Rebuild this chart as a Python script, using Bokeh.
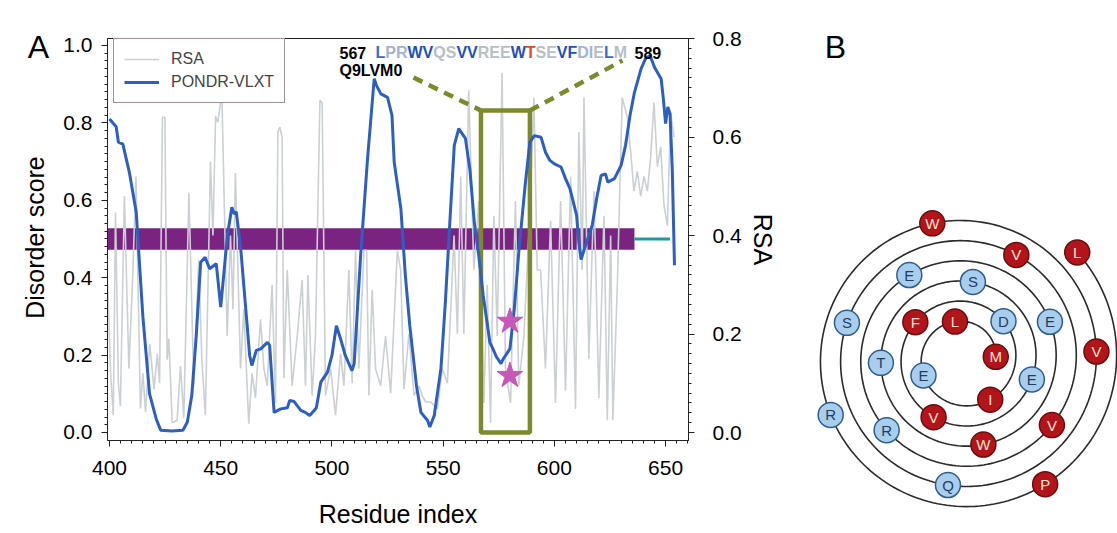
import math
import numpy as np
from bokeh.plotting import figure
from bokeh.models import (Range1d, LinearAxis, Label, Legend, LegendItem,
                          FixedTicker, PrintfTickFormatter)
from bokeh.layouts import row
from bokeh.embed import file_html
from bokeh.resources import INLINE
from bokeh.core.properties import value

FONT = "Liberation Sans"

# ---------------- data: panel A ----------------
pondr_res = [400, 403, 404, 406, 409, 412, 413, 415, 418, 421, 423, 428, 433, 435, 437,
             439, 441, 443, 445, 448, 450, 453, 455, 456, 457, 459, 461, 463, 464, 466,
             468, 471, 472, 474, 477, 480, 481, 483, 486, 488, 490, 492, 493, 495, 498,
             500, 502, 504, 506, 509, 510, 513, 516, 519, 520, 522, 525, 527, 528, 531,
             533, 535, 538, 540, 543, 544, 546, 549, 551, 553, 555, 557, 560, 562, 564,
             566, 568, 571, 573, 574, 576, 577, 580, 582, 584, 587, 589, 591, 594, 596,
             598, 600, 603, 605, 607, 610, 611, 612, 614, 617, 619, 621, 623, 624, 627,
             630, 632, 634, 636, 639, 641, 643, 645, 648, 649, 650, 651, 652, 653, 654]
pondr_score = [0.81, 0.79, 0.75, 0.745, 0.67, 0.57, 0.48, 0.30, 0.10, 0.035, 0.006, 0.004, 0.006, 0.027, 0.096,
               0.25, 0.44, 0.453, 0.423, 0.436, 0.324, 0.509, 0.582, 0.565, 0.57, 0.475, 0.337, 0.199, 0.173, 0.212,
               0.216, 0.233, 0.225, 0.052, 0.061, 0.064, 0.083, 0.080, 0.057, 0.052, 0.044, 0.057, 0.064, 0.13, 0.156,
               0.199, 0.276, 0.24, 0.199, 0.16, 0.178, 0.466, 0.707, 0.914, 0.897, 0.875, 0.866, 0.819, 0.698, 0.578,
               0.406, 0.276, 0.121, 0.052, 0.031, 0.014, 0.044, 0.165, 0.337, 0.543, 0.742, 0.785, 0.76, 0.681, 0.543,
               0.457, 0.354, 0.233, 0.208, 0.195, 0.178, 0.19, 0.216, 0.32, 0.466, 0.647, 0.75, 0.767, 0.763, 0.724,
               0.703, 0.694, 0.686, 0.656, 0.63, 0.561, 0.492, 0.447, 0.483, 0.535, 0.604, 0.664, 0.668, 0.647, 0.656,
               0.69, 0.742, 0.819, 0.879, 0.94, 0.966, 0.974, 0.944, 0.914, 0.862, 0.798, 0.841, 0.823, 0.681, 0.432]

rsa_res = [399.2, 400.5, 401.7, 402.7, 404.0, 404.9, 406.7, 408.7, 410.3, 411.9, 413.9, 415.0, 416.2, 418.1,
           420.0, 421.5, 422.5, 423.8, 424.9, 425.9, 426.7, 428.2, 430.4, 431.9, 433.4, 435.7, 437.9, 440.1,
           441.5, 443.1, 445.4, 446.5, 447.7, 448.7, 449.9, 450.6, 452.9, 454.4, 455.5, 456.6, 458.9, 460.4,
           462.6, 464.1, 465.6, 467.9, 469.4, 470.9, 473.1, 474.6, 475.7, 476.6, 477.6, 478.4, 479.9, 482.1,
           484.4, 486.6, 488.1, 489.2, 491.1, 492.6, 494.6, 495.6, 497.1, 499.4, 501.6, 503.9, 505.4, 507.6,
           509.1, 510.6, 512.1, 514.4, 515.6, 516.6, 518.1, 519.6, 521.9, 524.1, 526.4, 529.4, 530.9, 532.4,
           534.6, 536.9, 539.1, 540.6, 542.1, 544.4, 547.4, 549.6, 551.9, 554.9, 556.4, 557.9, 559.3, 561.5,
           563.8, 566.0, 568.3, 569.8, 571.3, 572.8, 574.3, 576.5, 578.0, 580.3, 582.5, 584.0, 586.3, 588.5,
           590.8, 592.3, 593.8, 596.0, 598.3, 600.5, 602.8, 605.0, 607.3, 609.5, 611.0, 612.5, 613.3, 615.5,
           617.8, 620.0, 622.3, 623.8, 625.3, 626.3, 628.3, 630.5, 632.8, 634.3, 635.8, 637.3, 638.8, 640.3,
           641.8, 643.3, 644.8, 646.3, 647.8, 649.3, 650.8, 652.3, 653.8]
rsa_val = [0.30, 0.12, 0.035, 0.446, 0.10, 0.054, 0.48, 0.13, 0.30, 0.52, 0.049, 0.12, 0.042, 0.18,
           0.088, 0.16, 0.10, 0.64, 0.64, 0.148, 0.19, 0.02, 0.025, 0.135, 0.03, 0.487, 0.095, 0.35,
           0.15, 0.035, 0.55, 0.40, 0.642, 0.63, 0.67, 0.67, 0.196, 0.40, 0.25, 0.527, 0.13, 0.25,
           0.018, 0.12, 0.07, 0.23, 0.13, 0.095, 0.30, 0.06, 0.61, 0.62, 0.60, 0.11, 0.33, 0.095,
           0.196, 0.31, 0.095, 0.32, 0.075, 0.196, 0.675, 0.669, 0.075, 0.13, 0.035, 0.16, 0.095, 0.33,
           0.10, 0.37, 0.13, 0.37, 0.37, 0.075, 0.29, 0.13, 0.095, 0.196, 0.08, 0.37, 0.33, 0.088,
           0.20, 0.075, 0.095, 0.075, 0.062, 0.062, 0.048, 0.13, 0.10, 0.40, 0.20, 0.52, 0.20, 0.695,
           0.33, 0.47, 0.06, 0.30, 0.02, 0.44, 0.196, 0.73, 0.13, 0.06, 0.47, 0.095, 0.196, 0.40,
           0.68, 0.33, 0.33, 0.13, 0.43, 0.06, 0.47, 0.085, 0.52, 0.048, 0.61, 0.33, 0.68, 0.15,
           0.49, 0.07, 0.44, 0.025, 0.40, 0.025, 0.30, 0.68, 0.64, 0.57, 0.49, 0.53, 0.48, 0.52,
           0.49, 0.56, 0.67, 0.54, 0.58, 0.46, 0.42, 0.65, 0.60]

disorder_region = [399, 636]      # purple bar (predicted disordered region)
linker_region = [636, 652]        # teal line
bar_level = 0.5
bar_halfwidth = 0.028

motif_start, motif_end = 567, 589
motif_top = 0.832
motif_seq = "LPRWVQSVVREEWTSEVFDIELM"
motif_id = "Q9LVM0"
# letter class: b=blue, d=dark blue, p=pale blue, g=gray, r=red
motif_cls = ["b", "p", "p", "d", "d", "g", "g", "d", "d", "g", "g", "g", "d", "r",
             "g", "g", "d", "d", "p", "p", "g", "b", "g"]
star_res = [580, 580]
star_score = [0.287, 0.147]

x_ticks = [400, 450, 500, 550, 600, 650]
y_ticks = [0.0, 0.2, 0.4, 0.6, 0.8, 1.0]
rsa_ticks = [0.0, 0.2, 0.4, 0.6, 0.8]

# ---------------- data: panel B (helical wheel) ----------------
wheel_seq = "LPRWVQSVVREEWTSEVFDIELM"
hydrophobic = set("LPWVFIMA")

# ---------------- geometry ----------------
H = 533
W_L = 57                      # left strip: panel letter + y title
W_A = 780 - W_L               # main plot A
W_B = 1117 - 780              # panel B
FL, FR, FT, FB = 107, 688, 38, 440   # frame of A in page pixels
X0, X1 = 399.1, 660.3
Y0, Y1 = -0.0207, 1.018
R0, R1 = -0.0162, 0.8

def px2x(px):
    return X0 + (px - FL) * (X1 - X0) / (FR - FL)

def py2y(py):
    return Y1 - (py - FT) * (Y1 - Y0) / (FB - FT)

def blank(width, x0, x1):
    f = figure(width=width, height=H, x_range=Range1d(x0, x1), y_range=Range1d(0, H),
               output_backend="svg", toolbar_location=None, min_border=0)
    f.frame_align = False
    f.axis.visible = False
    f.xgrid.visible = False
    f.ygrid.visible = False
    f.outline_line_color = None
    f.background_fill_color = "white"
    f.border_fill_color = "white"
    return f

# ---------------- left strip ----------------
pl = blank(W_L, 0, W_L)
pl.text(x=[38], y=[H - 46], text=["A"], text_font=value(FONT), text_font_size="32px",
        text_color="black", text_align="center", text_baseline="middle")
pl.text(x=[34], y=[H - 237], text=["Disorder score"], angle=math.pi / 2,
        text_font=value(FONT), text_font_size="25px", text_color="black",
        text_align="center", text_baseline="middle")

# ---------------- figure A ----------------
p = figure(width=W_A, height=H, x_range=Range1d(X0, X1), y_range=Range1d(Y0, Y1),
           output_backend="svg", toolbar_location=None,
           min_border_left=FL - W_L, min_border_right=780 - FR,
           min_border_top=FT, min_border_bottom=H - FB)
p.frame_align = False
p.extra_y_ranges = {"rsa": Range1d(R0, R1)}
p.xgrid.visible = False
p.ygrid.visible = False
p.outline_line_color = "#222222"
p.outline_line_width = 1
p.background_fill_color = "white"
p.border_fill_color = "white"

AX_COLOR = "#222222"

def style_axis(ax, size_lbl="21px", size_title="25px"):
    ax.axis_line_color = AX_COLOR
    ax.major_tick_line_color = AX_COLOR
    ax.minor_tick_line_color = AX_COLOR
    ax.major_tick_out = 6
    ax.major_tick_in = 0
    ax.minor_tick_out = 3
    ax.minor_tick_in = 0
    ax.major_label_text_font = FONT
    ax.major_label_text_font_size = size_lbl
    ax.major_label_text_color = "black"
    ax.axis_label_text_font = FONT
    ax.axis_label_text_font_size = size_title
    ax.axis_label_text_font_style = "normal"
    ax.axis_label_text_color = "black"

p.xaxis.ticker = FixedTicker(ticks=x_ticks, minor_ticks=list(range(400, 661, 5)))
p.xaxis.axis_label = "Residue index"
style_axis(p.xaxis[0])
p.xaxis.major_label_standoff = 14
p.xaxis.axis_label_standoff = 22

p.yaxis.ticker = FixedTicker(ticks=y_ticks, minor_ticks=[round(v, 2) for v in np.arange(0, 1.0001, 0.02)])
p.yaxis.formatter = PrintfTickFormatter(format="%.1f")
style_axis(p.yaxis[0])
p.yaxis.major_label_standoff = 9

rax = LinearAxis(y_range_name="rsa", axis_label="RSA",
                 ticker=FixedTicker(ticks=rsa_ticks, minor_ticks=[round(v, 2) for v in np.arange(0, 0.8001, 0.02)]),
                 formatter=PrintfTickFormatter(format="%.1f"))
style_axis(rax)
rax.major_label_standoff = 18
rax.axis_label_standoff = 4
p.add_layout(rax, "right")

PURPLE = "#7a2380"
TEAL = "#1f9c9c"
GRAY = "#cbd0d3"
BLUE = "#2d5ec2"
OLIVE = "#7d8a2c"
MAGENTA = "#c558b8"

p.quad(left=[disorder_region[0]], right=[disorder_region[1]],
       bottom=[bar_level - bar_halfwidth], top=[bar_level + bar_halfwidth],
       fill_color=PURPLE, line_color=None)
p.line(linker_region, [bar_level, bar_level], line_color=TEAL, line_width=3)

rsa_r = p.line(rsa_res, rsa_val, y_range_name="rsa", line_color=GRAY, line_width=1.6)

p.quad(left=[motif_start], right=[motif_end], bottom=[0], top=[motif_top],
       fill_alpha=0, line_color=OLIVE, line_width=4.5)

p.line([px2x(413), motif_start], [py2y(77), motif_top], line_color=OLIVE,
       line_width=4.5, line_dash="10 7")
p.line([motif_end, px2x(622)], [motif_top, py2y(60)], line_color=OLIVE,
       line_width=4.5, line_dash="10 7")

pondr_r = p.line(pondr_res, pondr_score, line_color=BLUE, line_width=3)

p.scatter(star_res, star_score, marker="star", size=27, fill_color=MAGENTA,
          line_color=MAGENTA)

# sequence text with proportional bold widths (Liberation Sans Bold, per 1000 em)
adv = {"L": 611, "P": 667, "R": 722, "W": 944, "V": 667, "Q": 778, "S": 667,
       "E": 667, "T": 611, "F": 611, "D": 722, "I": 278, "M": 833}
cls_color = {"b": "#3d6cc6", "d": "#2350b8", "p": "#a5b2d2", "g": "#b7bec6", "r": "#e8452c"}
fs = 16
xs, cur = [], 375.0
for ch in motif_seq:
    xs.append(px2x(cur))
    cur += adv[ch] / 1000 * fs
p.text(x=xs, y=[py2y(52)] * len(xs), text=list(motif_seq),
       text_color=[cls_color[c] for c in motif_cls],
       text_font=value(FONT), text_font_style="bold", text_font_size="16px",
       text_align="left", text_baseline="middle")
p.add_layout(Label(x=px2x(339), y=py2y(52), text=str(motif_start), text_font=FONT,
                   text_font_style="bold", text_font_size="16px", text_color="black",
                   text_baseline="middle", text_align="left"))
p.add_layout(Label(x=px2x(634), y=py2y(52), text=str(motif_end), text_font=FONT,
                   text_font_style="bold", text_font_size="16px", text_color="black",
                   text_baseline="middle", text_align="left"))
p.add_layout(Label(x=px2x(339), y=py2y(70), text=motif_id, text_font=FONT,
                   text_font_style="bold", text_font_size="16px", text_color="black",
                   text_baseline="middle", text_align="left"))

legend = Legend(items=[LegendItem(label="RSA", renderers=[rsa_r]),
                       LegendItem(label="PONDR-VLXT", renderers=[pondr_r])],
                location=(6, (FB - FT) - 3 - 62))
legend.border_line_color = "#3b2b2b"
legend.border_line_width = 1.5
legend.background_fill_color = "white"
legend.background_fill_alpha = 1
legend.label_text_font = FONT
legend.label_text_font_size = "16px"
legend.glyph_width = 35
legend.glyph_height = 20
legend.label_height = 20
legend.spacing = 3
legend.padding = 10
legend.margin = 0
legend.label_standoff = 12
p.add_layout(legend)

# ---------------- figure B ----------------
pb = blank(W_B, 780, 1117)

CX, CY = 963, H - 358
theta0, dtheta = 43.0, -100.0
r0, dr = 155.5, -5.6
n = len(wheel_seq)
t = np.linspace(0, n - 1, 1200)
ang = np.radians(theta0 + dtheta * t)
rad = r0 + dr * t
pb.line(CX + rad * np.cos(ang), CY + rad * np.sin(ang), line_color="#2a2a2a", line_width=1.6)

idx = np.arange(n)
ra = np.radians(theta0 + dtheta * idx)
rr = r0 + dr * idx
wx = CX + rr * np.cos(ra)
wy = CY + rr * np.sin(ra)
is_h = [c in hydrophobic for c in wheel_seq]
pb.circle(x=wx, y=wy, radius=12.5,
          fill_color=["#b3141c" if h else "#a9cdec" for h in is_h],
          line_color=["#6e0c0c" if h else "#2f5d8c" for h in is_h], line_width=1.5)
pb.text(x=wx, y=wy, text=list(wheel_seq),
        text_color=["#f4e4cc" if h else "#1f3d62" for h in is_h],
        text_font=value(FONT), text_font_size="15px",
        text_align="center", text_baseline="middle")
pb.text(x=[835], y=[H - 46], text=["B"], text_font=value(FONT), text_font_size="32px",
        text_color="black", text_align="center", text_baseline="middle")

layout = row(pl, p, pb)
open("out.html", "w").write(file_html(layout, INLINE))
